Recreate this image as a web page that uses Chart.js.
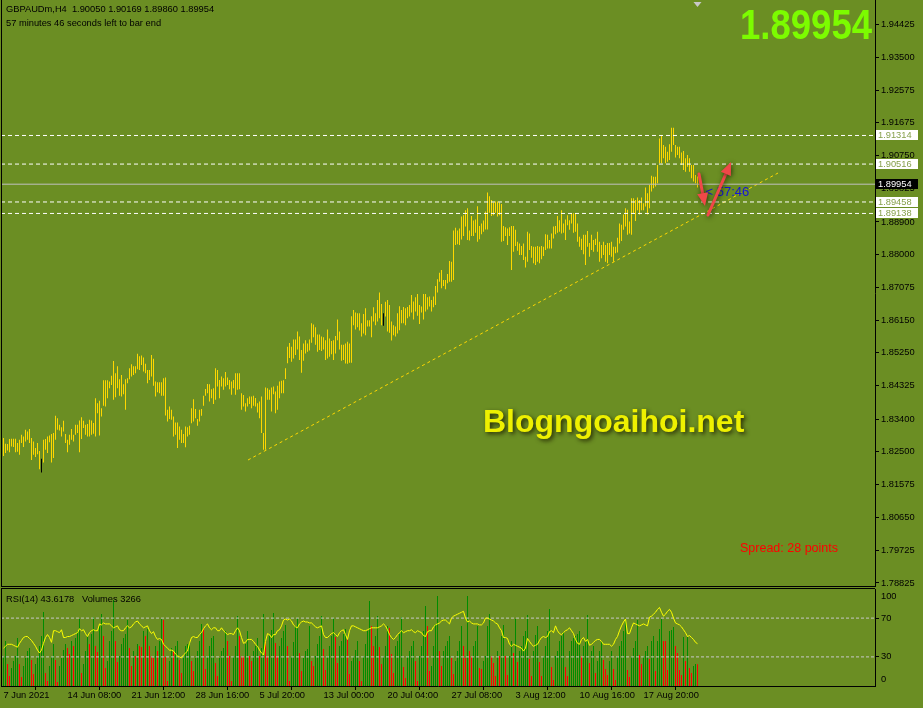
<!DOCTYPE html>
<html>
<head>
<meta charset="utf-8">
<title>GBPAUDm,H4</title>
<script src="https://cdn.jsdelivr.net/npm/chart.js@4.4.0/dist/chart.umd.min.js"></script>
<style>
  html, body { margin: 0; padding: 0; background: #6b8e23; }
  #wrap { position: relative; width: 923px; height: 708px; overflow: hidden; background: #6b8e23; }
  #main { position: absolute; left: 0; top: 0; }
  #sub { position: absolute; left: 0; top: 588px; }
</style>
</head>
<body>
<div id="wrap">
  <canvas id="main" width="923" height="588"></canvas>
  <canvas id="sub" width="923" height="120"></canvas>
</div>
<script>
// ---- data (bar 0 = 7 Jun 2021 00:00) ----
const highs = [
  1.8287,1.8271,1.8270,1.8284,1.8285,1.8285,1.8285,1.8273,1.8282,1.8296, // 0
  1.8291,1.8310,1.8305,1.8312,1.8287,1.8277,1.8259,1.8273,1.8251,1.8229,
  1.8282,1.8284,1.8291,1.8294,1.8298,1.8301,1.8349,1.8342,1.8324,1.8317,
  1.8335,1.8298,1.8282,1.8296,1.8312,1.8296,1.8324,1.8324,1.8336,1.8345,
  1.8335,1.8324,1.8326,1.8338,1.8336,1.8329,1.8398,1.8384,1.8391,1.8370,
  1.8448,1.8448,1.8448,1.8445,1.8461,1.8502,1.8468,1.8487,1.8451,1.8463, // 50
  1.8437,1.8451,1.8454,1.8482,1.8493,1.8487,1.8487,1.8522,1.8515,1.8517,
  1.8512,1.8494,1.8477,1.8477,1.8519,1.8508,1.8445,1.8443,1.8443,1.8443,
  1.8454,1.8456,1.8366,1.8375,1.8366,1.8347,1.8330,1.8330,1.8319,1.8310,
  1.8298,1.8319,1.8317,1.8321,1.8370,1.8395,1.8368,1.8340,1.8366,1.8368,
  1.8405,1.8424,1.8438,1.8437,1.8423,1.8426,1.8482,1.8477,1.8449,1.8459, // 100
  1.8454,1.8471,1.8456,1.8449,1.8445,1.8449,1.8468,1.8468,1.8468,1.8412,
  1.8407,1.8384,1.8398,1.8403,1.8403,1.8405,1.8399,1.8384,1.8389,1.8403,
  1.8301,1.8428,1.8426,1.8422,1.8428,1.8431,1.8417,1.8433,1.8445,1.8447,
  1.8448,1.8482,1.8542,1.8552,1.8542,1.8562,1.8562,1.8584,1.8570,1.8533,
  1.8551,1.8560,1.8551,1.8562,1.8607,1.8604,1.8596,1.8576,1.8576,1.8570, // 150
  1.8568,1.8560,1.8590,1.8565,1.8558,1.8560,1.8572,1.8618,1.8584,1.8547,
  1.8547,1.8551,1.8556,1.8551,1.8627,1.8644,1.8637,1.8635,1.8635,1.8607,
  1.8633,1.8649,1.8616,1.8616,1.8627,1.8652,1.8635,1.8672,1.8693,1.8661,
  1.8635,1.8667,1.8672,1.8658,1.8612,1.8602,1.8598,1.8635,1.8655,1.8644,
  1.8653,1.8649,1.8653,1.8658,1.8686,1.8668,1.8680,1.8689,1.8658,1.8654, // 200
  1.8689,1.8689,1.8680,1.8682,1.8672,1.8682,1.8711,1.8730,1.8748,1.8756,
  1.8728,1.8728,1.8745,1.8781,1.8779,1.8866,1.8874,1.8866,1.8872,1.8905,
  1.8909,1.8923,1.8928,1.8866,1.8907,1.8894,1.8897,1.8934,1.8879,1.8886,
  1.8894,1.8919,1.8972,1.8962,1.8951,1.8944,1.8947,1.8947,1.8944,1.8940,
  1.8879,1.8875,1.8872,1.8875,1.8879,1.8879,1.8868,1.8835,1.8830,1.8823, // 250
  1.8830,1.8793,1.8863,1.8858,1.8823,1.8821,1.8821,1.8823,1.8821,1.8823,
  1.8821,1.8856,1.8854,1.8840,1.8858,1.8877,1.8879,1.8907,1.8895,1.8923,
  1.8886,1.8897,1.8909,1.8895,1.8914,1.8914,1.8914,1.8886,1.8849,1.8843,
  1.8854,1.8854,1.8865,1.8831,1.8854,1.8840,1.8843,1.8863,1.8835,1.8826,
  1.8835,1.8826,1.8831,1.8831,1.8835,1.8821,1.8821,1.8846,1.8886,1.8882, // 300
  1.8911,1.8928,1.8924,1.8891,1.8956,1.8956,1.8951,1.8958,1.8951,1.8958,
  1.8942,1.8986,1.8970,1.8993,1.9019,1.9016,1.9016,1.9049,1.9123,1.9133,
  1.9105,1.9100,1.9086,1.9107,1.9153,1.9153,1.9105,1.9100,1.9100,1.9084,
  1.9088,1.9068,1.9077,1.9068,1.9049,1.9049,1.9021,1.90169
];
const lows = [
  1.8237,1.8245,1.8252,1.8247,1.8263,1.8262,1.8247,1.8249,1.8240,1.8273, // 0
  1.8262,1.8277,1.8282,1.8273,1.8226,1.8240,1.8234,1.8242,1.8200,1.8191,
  1.8219,1.8254,1.8245,1.8275,1.8219,1.8231,1.8282,1.8310,1.8308,1.8291,
  1.8305,1.8273,1.8247,1.8268,1.8282,1.8277,1.8296,1.8301,1.8247,1.8284,
  1.8315,1.8296,1.8291,1.8291,1.8296,1.8299,1.8291,1.8356,1.8294,1.8347,
  1.8377,1.8375,1.8398,1.8426,1.8435,1.8394,1.8401,1.8426,1.8405,1.8403, // 50
  1.8409,1.8366,1.8440,1.8451,1.8459,1.8463,1.8468,1.8479,1.8477,1.8491,
  1.8473,1.8468,1.8440,1.8449,1.8459,1.8433,1.8403,1.8415,1.8412,1.8405,
  1.8405,1.8350,1.8333,1.8340,1.8338,1.8291,1.8296,1.8259,1.8282,1.8273,
  1.8273,1.8261,1.8291,1.8296,1.8328,1.8333,1.8342,1.8321,1.8333,1.8349,
  1.8377,1.8405,1.8412,1.8389,1.8398,1.8382,1.8394,1.8431,1.8398,1.8431, // 100
  1.8422,1.8431,1.8435,1.8423,1.8408,1.8426,1.8408,1.8422,1.8423,1.8366,
  1.8375,1.8361,1.8375,1.8382,1.8370,1.8377,1.8375,1.8358,1.8342,1.8301,
  1.8254,1.8254,1.8394,1.8394,1.8361,1.8409,1.8356,1.8366,1.8398,1.8412,
  1.8412,1.8452,1.8496,1.8510,1.8500,1.8509,1.8519,1.8534,1.8505,1.8469,
  1.8503,1.8523,1.8528,1.8531,1.8553,1.8568,1.8547,1.8528,1.8533,1.8530, // 150
  1.8534,1.8505,1.8509,1.8514,1.8521,1.8505,1.8523,1.8560,1.8534,1.8503,
  1.8505,1.8495,1.8494,1.8497,1.8497,1.8602,1.8590,1.8596,1.8587,1.8570,
  1.8579,1.8574,1.8598,1.8598,1.8568,1.8612,1.8602,1.8612,1.8621,1.8602,
  1.8600,1.8626,1.8584,1.8581,1.8559,1.8574,1.8570,1.8579,1.8588,1.8607,
  1.8607,1.8602,1.8621,1.8626,1.8637,1.8618,1.8640,1.8628,1.8605,1.8637, // 200
  1.8618,1.8640,1.8646,1.8654,1.8640,1.8652,1.8658,1.8693,1.8723,1.8705,
  1.8711,1.8702,1.8719,1.8723,1.8723,1.8728,1.8826,1.8828,1.8826,1.8841,
  1.8851,1.8877,1.8840,1.8838,1.8851,1.8851,1.8860,1.8835,1.8842,1.8856,
  1.8863,1.8869,1.8869,1.8916,1.8907,1.8909,1.8916,1.8905,1.8909,1.8835,
  1.8837,1.8851,1.8826,1.8851,1.8756,1.8807,1.8823,1.8810,1.8798,1.8798, // 250
  1.8784,1.8763,1.8779,1.8812,1.8790,1.8775,1.8770,1.8779,1.8775,1.8786,
  1.8795,1.8812,1.8816,1.8816,1.8816,1.8844,1.8856,1.8860,1.8863,1.8858,
  1.8860,1.8840,1.8881,1.8868,1.8886,1.8860,1.8863,1.8835,1.8821,1.8812,
  1.8800,1.8770,1.8821,1.8793,1.8812,1.8807,1.8826,1.8807,1.8779,1.8789,
  1.8798,1.8779,1.8775,1.8798,1.8793,1.8779,1.8803,1.8805,1.8830,1.8837, // 300
  1.8868,1.8877,1.8854,1.8858,1.8854,1.8914,1.8893,1.8923,1.8911,1.8923,
  1.8923,1.8933,1.8911,1.8928,1.8975,1.8984,1.8989,1.8998,1.9054,1.9054,
  1.9068,1.9054,1.9058,1.9063,1.9086,1.9105,1.9070,1.9077,1.9068,1.9049,
  1.9035,1.9030,1.9044,1.9030,1.9012,1.9003,1.8998,1.89860
];
const volumes = [
  4500,6750,3300,1500,2700,3750,4500,7200,3300,1350,3000,4200, // 0
  5250,5700,3900,1800,3300,4500,6000,7500,11100,1950,750,3000,
  4500,6300,3900,600,3000,4200,5400,6300,5700,4800,6750,6000,
  7200,8250,10050,1950,3300,5250,7500,6300,7800,10350,6000,5100,
  9000,10800,7500,2700,3750,6750,8250,12900,6750,3600,4500,6300,
  7200,7800,9900,5700,3000,5250,4500,6300,6000,5850,8250,7500, // 60
  8550,6000,4500,4200,6000,5250,6750,10050,9900,4350,750,3750,
  5700,5250,6000,6750,3900,1950,4500,6000,6300,6600,3750,2250,
  4200,5250,6750,9300,8700,2550,4500,6000,7200,7500,3450,1500,
  4200,5250,5700,8250,6750,4500,750,4500,6000,10500,7500,4500,
  4500,6300,8250,4500,3750,5250,6000,7200,4500,5700,10800,6750, // 120
  4500,7500,8400,10950,6450,4500,6000,7200,8250,9150,6000,750,
  4500,6600,9000,10200,4950,2250,4200,5250,5550,9000,3750,3000,
  4500,6300,7500,10500,5550,2400,4500,6000,7500,10200,7350,3450,
  6000,6750,7800,8550,7200,1800,3750,4500,5400,6750,3750,750,
  4500,6300,8250,12750,9000,6000,7500,10500,5850,3300,4500,6000, // 180
  9000,8700,4800,1950,6000,6750,7800,10350,2850,1200,4500,5250,
  6000,6750,3750,750,4500,6000,8250,12000,9000,2250,3000,6000,
  9300,13500,5250,3000,5250,6000,6750,7500,4200,1800,3750,5250,
  6750,9000,6000,4200,13500,5250,4500,6000,6750,9000,2700,2550,
  3750,4500,9000,10800,4500,3450,1500,5250,4500,7500,9150,4500, // 240
  1650,4500,6750,4950,10050,3600,5250,6000,7500,8250,10650,4050,
  1500,5250,7650,9000,3600,1500,4500,6000,8250,11550,2850,900,
  4500,5250,6750,7500,8100,2850,1500,5250,6750,7200,7500,7800,
  8250,4500,6000,6750,10650,3450,5250,6000,1950,3750,5250,6750,
  3900,2550,1650,3750,5250,2550,900,4500,6000,6750,8250,9900, // 300
  2400,1350,4500,5700,6750,9900,4650,3300,4500,5250,6000,4050,
  6750,7500,2250,6750,8550,10050,6750,6750,2400,8250,8400,8850,
  6000,4950,2400,1650,7350,3750,7350,2700,1950,3000,3300,3266
];
const rsi = [
  39,41,43,43,43,42,41,40,44,47, // 0
  50,51,51,49,47,44,41,37,34,37,
  44,50,53,50,45,57,57,56,55,58,
  50,50,51,51,52,53,54,55,59,57,
  58,54,51,55,57,58,57,57,64,63,
  65,64,64,64,62,60,61,62,58,57, // 50
  57,60,62,60,61,64,66,67,64,62,
  60,61,62,57,54,56,51,48,49,48,
  43,41,39,37,37,36,33,31,30,29,
  32,34,36,44,50,51,50,50,53,55,
  59,62,64,60,58,60,60,57,57,60, // 100
  57,55,53,54,54,53,57,60,57,50,
  44,45,48,48,48,46,43,41,37,34,
  32,46,54,53,50,53,53,57,58,62,
  68,69,68,69,67,63,61,60,64,66,
  67,66,66,65,65,63,61,60,61,62, // 150
  53,50,50,52,54,55,53,51,55,57,
  58,53,48,57,62,62,61,60,59,58,
  57,57,58,59,60,60,60,60,61,62,
  64,62,58,53,50,48,50,53,55,57,
  55,56,57,57,58,56,55,57,56,55, // 200
  52,51,56,57,57,61,63,64,65,67,
  68,68,66,64,70,72,73,74,75,76,
  77,70,66,67,65,64,64,64,63,63,
  65,70,70,69,68,67,65,64,60,57,
  50,50,49,43,41,43,42,41,40,39, // 250
  36,39,49,46,43,41,42,43,47,50,
  51,50,51,56,57,55,62,57,54,53,
  55,57,58,60,57,54,48,44,43,48,
  50,46,48,42,43,45,47,48,48,46,
  43,43,43,43,41,43,48,51,57,62, // 300
  66,69,54,54,60,65,64,63,62,63,
  64,63,62,71,72,74,76,79,81,76,
  72,74,77,79,76,70,65,64,63,61,
  58,55,51,52,50,48,45,43.6178
];
const darkBars = [19, 190];

const xLabels = ['7 Jun 2021', '14 Jun 08:00', '21 Jun 12:00', '28 Jun 16:00', '5 Jul 20:00', '13 Jul 00:00',
  '20 Jul 04:00', '27 Jul 08:00', '3 Aug 12:00', '10 Aug 16:00', '17 Aug 20:00'];
const xLabelBars = [0, 32, 64, 96, 128, 160, 192, 224, 256, 288, 320];
const priceTicks = [1.94425, 1.93500, 1.92575, 1.91675, 1.90750, 1.89825, 1.88900, 1.88000, 1.87075,
  1.86150, 1.85250, 1.84325, 1.83400, 1.82500, 1.81575, 1.80650, 1.79725, 1.78825];
const levels = [1.91314, 1.90516, 1.89458, 1.89138];
const bid = 1.89954;
const trendFrom = [122.25, 1.82256];
const trendTo = [387.25, 1.90266];
// hand drawn arrows: [fromBar, fromPrice, toBar, toPrice]
const arrows = [[347.75, 1.90239, 350.75, 1.89345], [352.25, 1.89094, 363.75, 1.90574]];
const rsiLevels = [70, 30];

const symbolInfo = 'GBPAUDm,H4  1.90050 1.90169 1.89860 1.89954';
const timerInfo = '57 minutes 46 seconds left to bar end';
const countdown = '< 57:46';
const spreadText = 'Spread: 28 points';
const watermark = 'Blogngoaihoi.net';

// ---- look ----
const FONT = "'Liberation Sans', Arial, sans-serif";
const SMALL = '9.3px ' + FONT;
const xMin = -1.25, xMax = 435.75;
const priceMin = 1.78740, priceMax = 1.95095;
const volMax = 14550;

const barColors = highs.map((h, i) => darkBars.includes(i) ? '#000000' : '#ffd700');
const volColors = volumes.map((v, i) => (i === 0 || v > volumes[i - 1]) ? '#008c00' : '#ff0000');

function hLine(y, color, dash) {
  return {
    type: 'line', data: [{x: xMin, y: y}, {x: xMax, y: y}],
    borderColor: color, borderWidth: 1, borderDash: dash, pointRadius: 0, order: 1
  };
}

// keep the plot area flush with the canvas edges
function noPad(s) {
  s.paddingTop = 0; s.paddingBottom = 0; s.paddingLeft = 0; s.paddingRight = 0;
}

// 1px bars: snap the centres onto pixel centres so they stay sharp
const snapBars = {
  id: 'snapBars',
  beforeDatasetsDraw(chart) {
    chart.getSortedVisibleDatasetMetas().forEach(meta => {
      if (meta.type !== 'bar') return;
      meta.data.forEach(el => { el.x = Math.floor(el.x) + 0.5; el.width = 1; });
    });
  }
};

function drawArrow(ctx, x1, y1, x2, y2) {
  const ang = Math.atan2(y2 - y1, x2 - x1);
  const head = 13, half = 5.5;
  const bx = x2 - head * Math.cos(ang), byy = y2 - head * Math.sin(ang);
  ctx.beginPath();
  ctx.moveTo(x1, y1);
  ctx.lineTo(bx, byy);
  ctx.stroke();
  ctx.beginPath();
  ctx.moveTo(x2, y2);
  ctx.lineTo(bx + half * Math.sin(ang), byy - half * Math.cos(ang));
  ctx.lineTo(bx - half * Math.sin(ang), byy + half * Math.cos(ang));
  ctx.closePath();
  ctx.fill();
}

const mainOverlay = {
  id: 'mainOverlay',
  afterDraw(chart) {
    const {ctx, chartArea: a, scales: {x, y}} = chart;
    ctx.save();
    ctx.fillStyle = '#000';
    ctx.fillRect(Math.floor(a.left), a.top, 1, a.bottom - a.top + 1);
    ctx.fillRect(a.left, Math.floor(a.bottom), a.right - a.left, 1);

    // price tags on the axis
    ctx.font = SMALL;
    ctx.textBaseline = 'middle';
    ctx.textAlign = 'left';
    levels.forEach(l => {
      const py = Math.round(y.getPixelForValue(l));
      ctx.fillStyle = '#ffffff';
      ctx.fillRect(Math.round(a.right) + 1, py - 5, 42, 10);
      ctx.fillStyle = '#86a04c';
      ctx.fillText(l.toFixed(5), a.right + 3, py + 0.5);
    });
    const by = Math.round(y.getPixelForValue(bid));
    ctx.fillStyle = '#000';
    ctx.fillRect(Math.round(a.right) + 1, by - 5, 42, 10);
    ctx.fillStyle = '#ffffff';
    ctx.fillText(bid.toFixed(5), a.right + 3, by + 0.5);

    // shift marker
    const lastX = x.getPixelForValue(highs.length - 1);
    ctx.fillStyle = '#c8c8c8';
    ctx.beginPath();
    ctx.moveTo(lastX - 4, 2); ctx.lineTo(lastX + 4, 2); ctx.lineTo(lastX, 7); ctx.closePath();
    ctx.fill();

    // header
    ctx.fillStyle = '#000';
    ctx.fillText(symbolInfo, 6, 9);
    ctx.fillText(timerInfo, 6, 23);

    // big price
    ctx.font = 'bold 42px ' + FONT;
    ctx.textAlign = 'right';
    ctx.fillStyle = '#7cfc00';
    ctx.fillText(bid.toFixed(5), a.right - 3, 27, 132);

    // spread
    ctx.font = '12.5px ' + FONT;
    ctx.textAlign = 'left';
    ctx.fillStyle = '#ff0000';
    ctx.fillText(spreadText, 740, 549);

    // countdown next to last bar
    ctx.font = '13px ' + FONT;
    ctx.fillStyle = '#1414d8';
    ctx.fillText(countdown, lastX + 8, by + 8);

    // watermark
    ctx.font = 'bold 32px ' + FONT;
    ctx.textBaseline = 'alphabetic';
    ctx.shadowColor = 'rgba(30,30,0,0.85)';
    ctx.shadowBlur = 4;
    ctx.shadowOffsetX = 2;
    ctx.shadowOffsetY = 2;
    ctx.fillStyle = '#eef000';
    ctx.fillText(watermark, 483, 432);

    // arrows
    ctx.shadowColor = 'rgba(20,20,0,0.7)';
    ctx.shadowBlur = 5;
    ctx.shadowOffsetX = 1;
    ctx.shadowOffsetY = 1;
    ctx.strokeStyle = '#f04848';
    ctx.fillStyle = '#f04848';
    ctx.lineWidth = 3;
    ctx.lineCap = 'round';
    arrows.forEach(r => drawArrow(ctx, x.getPixelForValue(r[0]), y.getPixelForValue(r[1]),
      x.getPixelForValue(r[2]), y.getPixelForValue(r[3])));
    ctx.restore();
  }
};

const subOverlay = {
  id: 'subOverlay',
  afterDraw(chart) {
    const {ctx, chartArea: a} = chart;
    const rs = chart.scales.yRsi;
    ctx.save();
    ctx.fillStyle = '#000';
    ctx.fillRect(Math.floor(a.left), 0, 1, a.bottom + 1);
    ctx.fillRect(a.left, 0, a.right - a.left, 1);
    ctx.font = SMALL;
    ctx.textBaseline = 'middle';
    ctx.textAlign = 'left';
    ctx.fillText('100', a.right + 6, rs.getPixelForValue(100) + 7);
    ctx.fillText('0', a.right + 6, rs.getPixelForValue(0) - 7);
    const last = rsi.length - 1;
    ctx.fillText('RSI(14) ' + rsi[last].toFixed(4) + '   Volumes ' + volumes[last], 6, 11);
    ctx.restore();
  }
};

new Chart(document.getElementById('main'), {
  type: 'bar',
  data: {
    datasets: [
      {
        type: 'bar', data: highs.map((h, i) => ({x: i, y: [lows[i], h]})),
        backgroundColor: barColors, barThickness: 1, borderWidth: 0, inflateAmount: 0, order: 10
      },
      ...levels.map(l => hLine(l, '#ffffff', [4, 3])),
      hLine(bid, '#c0c0c0', []),
      {
        type: 'line', data: [{x: trendFrom[0], y: trendFrom[1]}, {x: trendTo[0], y: trendTo[1]}],
        borderColor: '#ffd700', borderWidth: 1, borderDash: [3, 3], pointRadius: 0, order: 2
      }
    ]
  },
  options: {
    responsive: false, animation: false, events: [],
    layout: {padding: {left: 1, top: 0, right: 0, bottom: 2}},
    plugins: {legend: {display: false}, tooltip: {enabled: false}},
    scales: {
      x: {type: 'linear', min: xMin, max: xMax, display: false, offset: false},
      y: {
        type: 'linear', position: 'right', min: priceMin, max: priceMax,
        afterBuildTicks: s => { s.ticks = priceTicks.map(v => ({value: v})); },
        afterFit: s => { s.width = 48; noPad(s); },
        grid: {drawOnChartArea: false, drawTicks: true, tickLength: 4, color: '#000'},
        border: {display: true, color: '#000'},
        ticks: {color: '#000', font: {family: FONT, size: 9.3}, padding: 2, autoSkip: false,
          callback: v => Number(v).toFixed(5)}
      }
    }
  },
  plugins: [snapBars, mainOverlay]
});

new Chart(document.getElementById('sub'), {
  type: 'bar',
  data: {
    datasets: [
      {
        type: 'bar', xAxisID: 'x', yAxisID: 'yVol', data: volumes.map((v, i) => ({x: i, y: v})),
        backgroundColor: volColors, barThickness: 1, borderWidth: 0, inflateAmount: 0, order: 10
      },
      {
        type: 'line', xAxisID: 'x', yAxisID: 'yRsi', data: rsi.map((v, i) => ({x: i, y: v})),
        borderColor: '#ffff00', borderWidth: 1, pointRadius: 0, tension: 0, order: 1
      },
      ...rsiLevels.map(l => Object.assign(hLine(l, '#c8c8c8', [3, 2]), {xAxisID: 'x', yAxisID: 'yRsi', order: 2}))
    ]
  },
  options: {
    responsive: false, animation: false, events: [],
    layout: {padding: {left: 1, top: 1, right: 0, bottom: 0}},
    plugins: {legend: {display: false}, tooltip: {enabled: false}},
    scales: {
      x: {
        type: 'linear', position: 'bottom', min: xMin, max: xMax, offset: false,
        afterBuildTicks: s => { s.ticks = xLabelBars.map(v => ({value: v})); },
        afterFit: s => { s.height = 22; noPad(s); },
        grid: {drawOnChartArea: false, drawTicks: true, tickLength: 4, color: '#000'},
        border: {display: true, color: '#000'},
        ticks: {color: '#000', font: {family: FONT, size: 9.3}, padding: 0, align: 'start',
          maxRotation: 0, autoSkip: false, callback: (v, i) => xLabels[i]}
      },
      yRsi: {
        type: 'linear', position: 'right', min: 0, max: 100,
        afterBuildTicks: s => { s.ticks = rsiLevels.map(v => ({value: v})); },
        afterFit: s => { s.width = 48; noPad(s); },
        grid: {drawOnChartArea: false, drawTicks: true, tickLength: 4, color: '#000'},
        border: {display: true, color: '#000'},
        ticks: {color: '#000', font: {family: FONT, size: 9.3}, padding: 2, autoSkip: false}
      },
      yVol: {type: 'linear', position: 'left', display: false, min: 0, max: volMax}
    }
  },
  plugins: [snapBars, subOverlay]
});
</script>
</body>
</html>
